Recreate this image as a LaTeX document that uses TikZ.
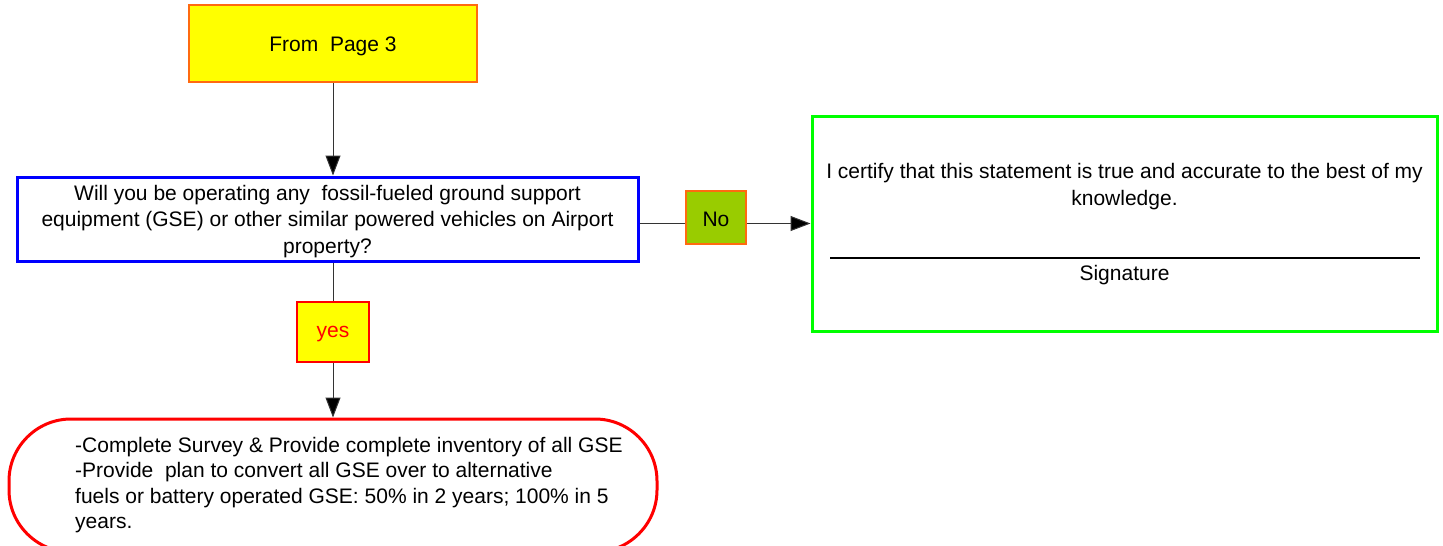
\documentclass[tikz,border=0pt]{standalone}
\usepackage{fontspec}
\setmainfont{Liberation Sans}
\usetikzlibrary{arrows.meta,calc}
\definecolor{boxyellow}{HTML}{FFFF00}
\definecolor{edgeorange}{HTML}{FF6A10}
\definecolor{nogreen}{HTML}{99CC00}
\definecolor{qblue}{HTML}{0000FF}
\definecolor{certgreen}{HTML}{00FF00}
\definecolor{rred}{HTML}{FF0000}
\definecolor{connc}{HTML}{333333}
\tikzset{
  txt/.style={font=\fontsize{21}{26.5}\selectfont, inner sep=0pt},
  boxnode/.style={rectangle, inner sep=0pt},
  intext/.style={txt, align=center, yshift=-2.5pt},
  conn/.style={draw=connc, line width=1pt},
  arr/.style={conn, -{Triangle[length=20pt,width=15pt,fill=black]}},
}
\begin{document}
\begin{tikzpicture}[x=1pt,y=-1pt]
\useasboundingbox (0,0) rectangle (1443,546);
% boxes
\node[boxnode, draw=edgeorange, fill=boxyellow, line width=2pt, minimum width=288pt, minimum height=77pt] (top) at (333,43.5) {};
\node[intext] (topt) at (top.center) {From\ \ Page 3};
\node[boxnode, draw=qblue, fill=white, line width=3pt, minimum width=621pt, minimum height=84pt] (blue) at (327.5,219) {};
\node[intext] (bluet) at (blue.center) {Will you be operating any\ \ fossil-fueled ground support\\equipment (GSE) or other similar powered vehicles on Airport\\property?};
\node[boxnode, draw=edgeorange, fill=nogreen, line width=1.5pt, minimum width=60pt, minimum height=53pt] (no) at (716,217.5) {};
\node[intext, yshift=1pt] (not) at (no.center) {No};
\node[boxnode, draw=certgreen, fill=white, line width=3pt, minimum width=625pt, minimum height=215pt] (green) at (1124.5,223.5) {};
\node[txt, align=center] (cert) at (1124.5,186.5) {I certify that this statement is true and accurate to the best of my\\knowledge.};
\node[inner sep=0pt] (sigline) at (1125,258) {\rule{590pt}{1.4pt}};
\node[txt] (sig) at (1124.5,275) {Signature};
\node[boxnode, draw=rred, fill=boxyellow, line width=2pt, minimum width=72pt, minimum height=60pt] (yes) at (333,332) {};
\node[intext, text=rred] (yest) at (yes.center) {yes};
\node[rectangle, draw=rred, fill=white, line width=3pt, rounded corners=62pt, minimum width=648pt, minimum height=133pt] (bottom) at (333,485.5) {};
\node[txt, font=\fontsize{21}{25.3}\selectfont, align=left, anchor=west] (todo) at (75,485) {-Complete Survey \& Provide complete inventory of all GSE\\-Provide\ \ plan to convert all GSE over to alternative\\fuels or battery operated GSE: 50\% in 2 years; 100\% in 5\\years.};
% connectors
\draw[arr] (top.south) -- (top.south |- blue.north);
\draw[conn] (top.south |- blue.south) -- (yes.north);
\draw[arr] (yes.south) -- (yes.south |- bottom.north);
\draw[conn] (blue.east |- green.west) -- (no.west |- green.west);
\draw[arr] (no.east |- green.west) -- (green.west);
\end{tikzpicture}
\end{document}
